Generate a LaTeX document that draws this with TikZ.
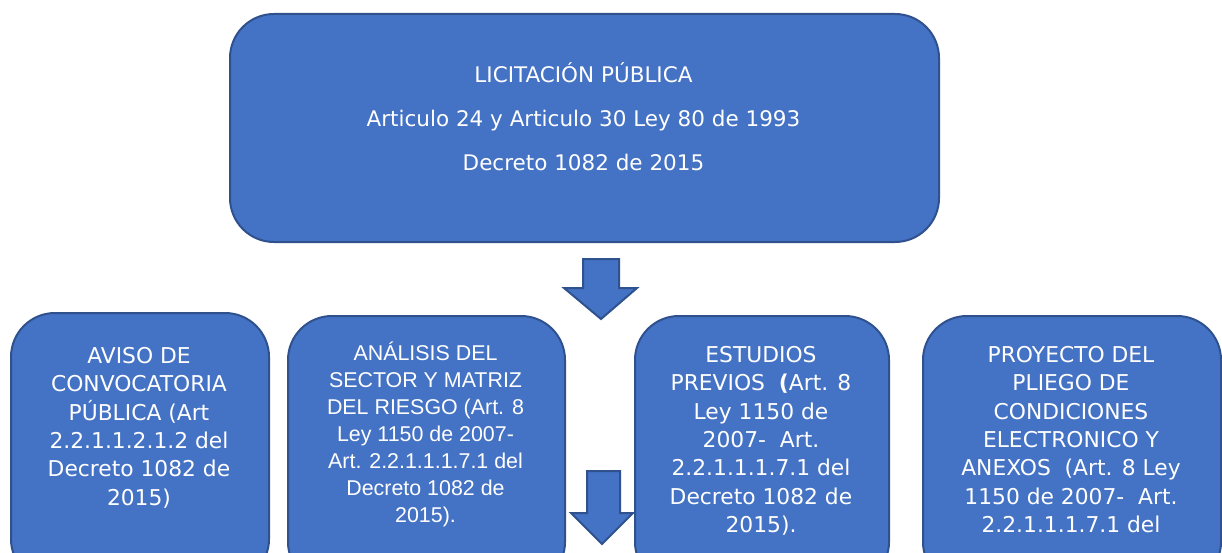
\documentclass[tikz,border=0pt]{standalone}
\usepackage{fontspec}
\newfontfamily\dvfont{DejaVu Sans}
\newfontfamily\arfont{Liberation Sans}
\definecolor{boxfill}{HTML}{4472C4}
\definecolor{boxline}{HTML}{2F528F}
\tikzset{
  blockbox/.style={draw=boxline, line width=2pt, fill=boxfill, rounded corners=44pt, inner sep=0pt, anchor=north west},
  boxtext/.style={text=white, inner sep=0pt, align=center, anchor=north},
  blockarrow/.style={draw=boxline, line width=2pt, fill=boxfill, line join=miter},
}
\newcommand{\firstline}[1]{\rule{0pt}{#1pt}}
\begin{document}
\begin{tikzpicture}[x=1pt, y=-1pt]
\useasboundingbox (0,0) rectangle (1222,553);
\fill[white] (0,0) rectangle (1222,553);
\clip (0,0) rectangle (1222,553);

% top box
\node[blockbox, minimum width=709pt, minimum height=228pt] (top) at (229,13) {};
\node[boxtext, font=\dvfont\fontsize{21.5}{43.7}\selectfont] (toptext) at (583.5,58.7)
  {\firstline{24}LICITACIÓN PÚBLICA\\Articulo 24 y Articulo 30 Ley 80 de 1993\\Decreto 1082 de 2015};

% lower boxes
\node[blockbox, minimum width=258pt, minimum height=270pt] (aviso) at (10,312) {};
\node[blockbox, minimum width=277pt, minimum height=270pt] (analisis) at (287,315) {};
\node[blockbox, minimum width=254pt, minimum height=270pt] (estudios) at (634,315) {};
\node[blockbox, minimum width=298pt, minimum height=270pt] (proyecto) at (922,315) {};

\node[boxtext, font=\dvfont\fontsize{21.8}{28.4}\selectfont] (avisotext) at (139,341)
  {\firstline{22}AVISO DE\\CONVOCATORIA\\PÚBLICA (Art\\2.2.1.1.2.1.2 del\\Decreto 1082 de\\2015)};
\node[boxtext, font=\arfont\fontsize{21.4}{27}\selectfont] (analisistext) at (425.5,338)
  {\firstline{22}ANÁLISIS DEL\\SECTOR Y MATRIZ\\DEL RIESGO (Art. 8\\Ley 1150 de 2007-\\Art. 2.2.1.1.1.7.1 del\\Decreto 1082 de\\2015).};
\node[boxtext, font=\dvfont\fontsize{21.8}{28.4}\selectfont] (estudiostext) at (761,340)
  {\firstline{22}ESTUDIOS\\PREVIOS\ \ \textbf{(}Art. 8\\Ley 1150 de\\2007-\ \ Art.\\2.2.1.1.1.7.1 del\\Decreto 1082 de\\2015).};
\node[boxtext, font=\dvfont\fontsize{21.8}{28.4}\selectfont] (proyectotext) at (1071,340)
  {\firstline{22}PROYECTO DEL\\PLIEGO DE\\CONDICIONES\\ELECTRONICO Y\\ANEXOS\ \ (Art. 8 Ley\\1150 de 2007-\ \ Art.\\2.2.1.1.1.7.1 del};

% block arrows
\draw[blockarrow] (583,259) -- (619,259) -- (619,288) -- (637,288) -- (601,319) -- (564,288) -- (583,288) -- cycle;
\draw[blockarrow] (587,471) -- (620,471) -- (620,513) -- (633,513) -- (602,544) -- (571,513) -- (587,513) -- cycle;
\end{tikzpicture}
\end{document}
